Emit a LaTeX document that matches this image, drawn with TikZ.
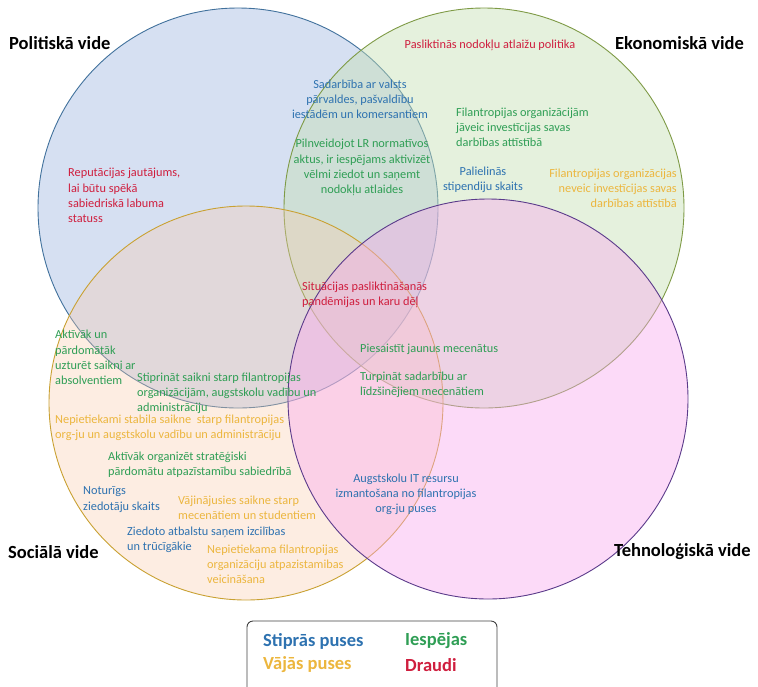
\documentclass[tikz,border=0pt]{standalone}
\usepackage{fontspec}
\setmainfont{Carlito}
\usepackage{tikz}
\usetikzlibrary{positioning}
\definecolor{vnblue}{HTML}{2E72B0}
\definecolor{vngreen}{HTML}{2F9E55}
\definecolor{vngold}{HTML}{ECB63E}
\definecolor{vnred}{HTML}{CF1E3E}
\definecolor{polfill}{HTML}{B4C7E7}
\definecolor{poldraw}{HTML}{41719C}
\definecolor{ekofill}{HTML}{C5E0B4}
\definecolor{ekodraw}{HTML}{7E9A45}
\definecolor{socfill}{HTML}{F8CBAD}
\definecolor{socdraw}{HTML}{C9A132}
\definecolor{tehfill}{HTML}{F9A8EE}
\definecolor{tehdraw}{HTML}{5A3A8A}

\begin{document}
\begin{tikzpicture}[
  x=1pt, y=-1pt,
  sphere/.style={line width=0.9pt},
  txt/.style={inner sep=0pt, font=\fontsize{12.3}{15.2}\selectfont},
  lft/.style={txt, align=left, anchor=west},
  title/.style={inner sep=0pt, anchor=west, font=\fontsize{18.5}{22}\selectfont\bfseries},
  legend/.style={inner sep=0pt, anchor=west, font=\fontsize{18.5}{22}\selectfont\bfseries}
]
\useasboundingbox (0,0) rectangle (758,686);
% the four environments
\draw[sphere, draw=poldraw, fill=polfill, fill opacity=0.55] (238,208) circle[radius=200];
\draw[sphere, draw=ekodraw, fill=ekofill, fill opacity=0.45] (484,208) circle[radius=200];
\draw[sphere, draw=socdraw, fill=socfill, fill opacity=0.35] (246,403) circle[radius=197];
\draw[sphere, draw=tehdraw, fill=tehfill, fill opacity=0.42] (488,399) circle[radius=200];

\node[title] (pol) at (9,43) {Politiskā vide};
\node[title] (eko) at (615,43) {Ekonomiskā vide};
\node[title] (soc) at (8,552) {Sociālā vide};
\node[title] (teh) at (614,552) {Tehnoloģiskā vide};

% politiska / ekonomiska
\node[txt, text=vnblue, align=center] (sadarb) at (360,99) {Sadarbība ar valsts\\pārvaldes, pašvaldību\\iestādēm un komersantiem};
\node[txt, text=vngreen, align=center] (pilnv) at (362,167.5) {Pilnveidojot LR normatīvos\\aktus, ir iespējams aktivizēt\\vēlmi ziedot un saņemt\\nodokļu atlaides};
\node[lft, text=vnred] (repu) at (68,195.5) {Reputācijas jautājums,\\lai būtu spēkā\\sabiedriskā labuma\\statuss};
\node[txt, text=vnred] (paslikt) at (490,45) {Pasliktinās nodokļu atlaižu politika};
\node[lft, text=vngreen] (invest) at (456,127.5) {Filantropijas organizācijām\\jāveic investīcijas savas\\darbības attīstībā};
\node[txt, text=vnblue, align=center] (stip) at (483,180) {Palielinās\\stipendiju skaits};
\node[txt, text=vngold, align=right, anchor=east] (neveic) at (677,188) {Filantropijas organizācijas\\neveic investīcijas savas\\darbības attīstībā};

% centrs
\node[lft, text=vnred] (situ) at (302,294.5) {Situācijas pasliktināšanās\\pandēmijas un karu dēļ};
\node[lft, text=vngreen] (piesaist) at (360,349) {Piesaistīt jaunus mecenātus};
\node[lft, text=vngreen] (turp) at (360,385) {Turpināt sadarbību ar\\līdzšinējiem mecenātiem};

% sociala
\node[lft, text=vngreen] (absolv) at (55,357.5) {Aktīvāk un\\pārdomātāk\\uzturēt saikni ar\\absolventiem};
\node[lft, text=vngreen] (saikne) at (137,393) {Stiprināt saikni starp filantropijas\\organizācijām, augstskolu vadību un\\administrāciju};
\node[lft, text=vngold] (nestab) at (55,427.5) {Nepietiekami stabila saikne\ \ starp filantropijas\\org-ju un augstskolu vadību un administrāciju};
\node[lft, text=vngreen] (atpaz) at (108,465) {Aktīvāk organizēt stratēģiski\\pārdomātu atpazīstamību sabiedrībā};
\node[lft, text=vnblue] (notur) at (83,499.5) {Noturīgs\\ziedotāju skaits};
\node[lft, text=vngold] (vajin) at (178,507.5) {Vājinājusies saikne starp\\mecenātiem un studentiem};
\node[lft, text=vnblue] (ziedoto) at (127,540) {Ziedoto atbalstu saņem izcilības\\un trūcīgākie};
\node[lft, text=vngold] (nepiet) at (207,564) {Nepietiekama filantropijas\\organizāciju atpazistamibas\\veicināšana};

% tehnologiska
\node[txt, text=vnblue, align=center] (itres) at (406,494) {Augstskolu IT resursu\\izmantošana no filantropijas\\org-ju puses};

% legend
\draw[line width=0.9pt, draw=black!75, rounded corners=6pt] (247,690) |- (497,621) -- (497,690);
\node[legend, text=vnblue] (lgs) at (263,641) {Stiprās puses};
\node[legend, text=vngold, below=24pt of lgs.west, anchor=west] (lgv) {Vājās puses};
\node[legend, text=vngreen] (lgi) at (405,641) {Iespējas};
\node[legend, text=vnred, below=24pt of lgi.west, anchor=west] (lgd) {Draudi};
\end{tikzpicture}
\end{document}
